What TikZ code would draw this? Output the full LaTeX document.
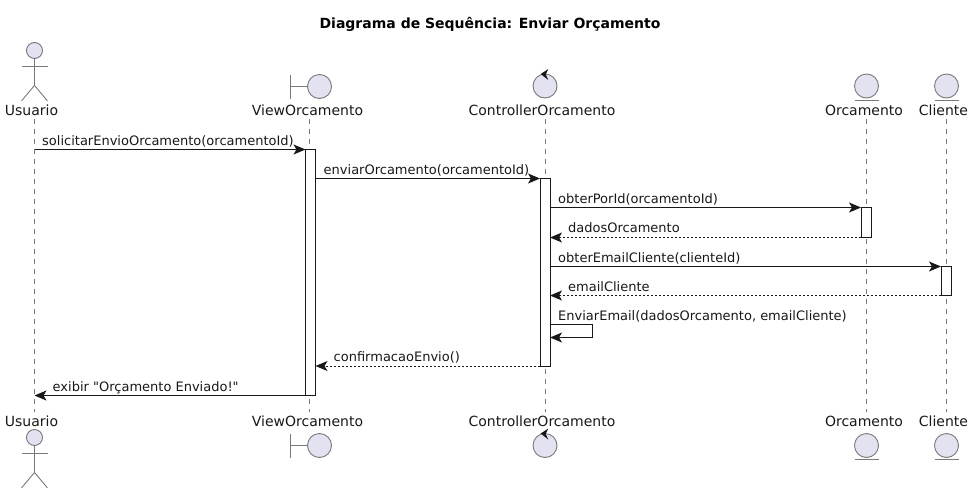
\documentclass[tikz,border=0pt]{standalone}
\usepackage{fontspec}
\setmainfont{DejaVu Sans}
\newfontfamily\seqPlain{DejaVu Sans}
\usetikzlibrary{arrows.meta}
\definecolor{seqInk}{RGB}{24,24,24}
\definecolor{seqGray}{RGB}{120,120,125}
\definecolor{seqFill}{RGB}{226,226,240}

\begin{document}
\begin{tikzpicture}[x=1pt,y=-1pt,
  part/.style={anchor=base,inner sep=0pt,text=seqInk,font=\fontsize{14}{16}\selectfont},
  txt/.style={anchor=base west,inner sep=0pt,text=seqInk,font=\fontsize{13}{15}\selectfont},
  icon/.style={circle,draw=seqGray,fill=seqFill,line width=0.9pt,minimum size=24pt,inner sep=0pt},
  head/.style={circle,draw=seqGray,fill=seqFill,line width=0.9pt,minimum size=16pt,inner sep=0pt},
  fig/.style={draw=seqGray,line width=0.9pt},
  life/.style={draw=seqGray,line width=0.8pt,dash pattern=on 5pt off 5pt},
  act/.style={draw=seqInk,fill=white,line width=1pt,minimum width=10pt,inner sep=0pt,outer sep=0pt},
  msg/.style={-{Stealth[length=12pt,width=10pt,inset=3pt]},draw=seqInk,line width=1pt},
  ret/.style={msg,dash pattern=on 2pt off 2pt}]
\useasboundingbox (0,0) rectangle (975,493);
\node[anchor=base,inner sep=0pt,font=\fontsize{14}{16}\selectfont\bfseries] (title) at (490,28)
  {Diagrama de Sequência: Enviar Orçamento};

% participant names
\node[part] (usuarioTop) at (31.5,115) {Usuario};
\node[part] (viewTop) at (307.5,115) {ViewOrcamento};
\node[part] (ctrlTop) at (542,115) {ControllerOrcamento};
\node[part] (orcTop) at (864,115) {Orcamento};
\node[part] (cliTop) at (943.5,115) {Cliente};
\node[part] (usuarioBot) at (31.5,426.5) {Usuario};
\node[part] (viewBot) at (307.5,426.5) {ViewOrcamento};
\node[part] (ctrlBot) at (542,426.5) {ControllerOrcamento};
\node[part] (orcBot) at (864,426.5) {Orcamento};
\node[part] (cliBot) at (943.5,426.5) {Cliente};

% life lines
\coordinate (usuarioA) at (34.5,119);
\coordinate (usuarioB) at (34.5,412);
\coordinate (viewA) at (309.5,119);
\coordinate (viewB) at (309.5,412);
\coordinate (ctrlA) at (545,119);
\coordinate (ctrlB) at (545,412);
\coordinate (orcA) at (866,119);
\coordinate (orcB) at (866,412);
\coordinate (cliA) at (946,119);
\coordinate (cliB) at (946,412);
\draw[life] (usuarioA)--(usuarioB);
\draw[life] (viewA)--(viewB);
\draw[life] (ctrlA)--(ctrlB);
\draw[life] (orcA)--(orcB);
\draw[life] (cliA)--(cliB);

% actor, top and bottom
\node[head] (manTop) at (34.5,50.5) {};
\draw[fig] (manTop.south)--++(0,26.5) coordinate (hipTop)--++(-13,15.5);
\draw[fig] (hipTop)--++(13,15.5);
\draw[fig] (21.5,66)--(47.5,66);
\node[head] (manBot) at (34.5,437.5) {};
\draw[fig] (manBot.south)--++(0,26.5) coordinate (hipBot)--++(-13,15.5);
\draw[fig] (hipBot)--++(13,15.5);
\draw[fig] (21.5,453)--(47.5,453);

% boundary
\node[icon] (bndTop) at (319.5,86.5) {};
\draw[fig] (bndTop.west)--(290.5,86.5);
\draw[fig] (290.5,74.5)--(290.5,98.5);
\node[icon] (bndBot) at (319.5,445.5) {};
\draw[fig] (bndBot.west)--(290.5,445.5);
\draw[fig] (290.5,433.5)--(290.5,457.5);

% control
\node[icon] (ctlTop) at (545,86) {};
\fill[seqInk] (540.7,74)--(548.3,69)--(545.7,74.5)--(548.3,80)--cycle;
\node[icon] (ctlBot) at (545,445.5) {};
\fill[seqInk] (540.7,433.5)--(548.3,428.5)--(545.7,434)--(548.3,439.5)--cycle;

% entities
\node[icon] (entOrcTop) at (866.5,86) {};
\draw[fig] (854.5,100.5)--(878.5,100.5);
\node[icon] (entCliTop) at (946.5,86) {};
\draw[fig] (934.5,100.5)--(958.5,100.5);
\node[icon] (entOrcBot) at (866.5,445.5) {};
\draw[fig] (854.5,459.5)--(878.5,459.5);
\node[icon] (entCliBot) at (946.5,445.5) {};
\draw[fig] (934.5,459.5)--(958.5,459.5);

% activations
\node[act,anchor=north,minimum height=246pt] (actView) at (310.5,149.5) {};
\node[act,anchor=north,minimum height=187.5pt] (actCtrl) at (545,178.5) {};
\node[act,anchor=north,minimum height=30pt] (actOrc) at (866,207.5) {};
\node[act,anchor=north,minimum height=29pt] (actCli) at (946,266.5) {};

% messages
\coordinate (m1) at (34.5,149.5);
\coordinate (m9) at (34.5,395.5);
\coordinate (self1) at (592,324.5);
\coordinate (self2) at (592,337.5);
\draw[msg] (m1)--(actView.north west);
\draw[msg] (actView.east|-actCtrl.north)--(actCtrl.north west);
\draw[msg] (actCtrl.east|-actOrc.north)--(actOrc.north west);
\draw[ret] (actOrc.south west)--(actCtrl.east|-actOrc.south);
\draw[msg] (actCtrl.east|-actCli.north)--(actCli.north west);
\draw[ret] (actCli.south west)--(actCtrl.east|-actCli.south);
\draw[msg] (actCtrl.east|-self1)--(self1)--(self2)--(actCtrl.east|-self2);
\draw[ret] (actCtrl.south west)--(actView.east|-actCtrl.south);
\draw[msg] (actView.south west)--(m9);

% message labels
\node[txt] (t1) at (42,145) {solicitarEnvioOrcamento(orcamentoId)};
\node[txt] (t2) at (323.5,174) {enviarOrcamento(orcamentoId)};
\node[txt] (t3) at (558,203) {obterPorId(orcamentoId)};
\node[txt] (t4) at (568,232.5) {dadosOrcamento};
\node[txt] (t5) at (558,262) {obterEmailCliente(clienteId)};
\node[txt] (t6) at (568,291) {emailCliente};
\node[txt] (t7) at (558,320) {EnviarEmail(dadosOrcamento, emailCliente)};
\node[txt] (t8) at (333.5,361.5) {confirmacaoEnvio()};
\node[txt] (t9) at (52.5,391) {\seqPlain exibir "Orçamento Enviado!"};
\end{tikzpicture}
\end{document}
